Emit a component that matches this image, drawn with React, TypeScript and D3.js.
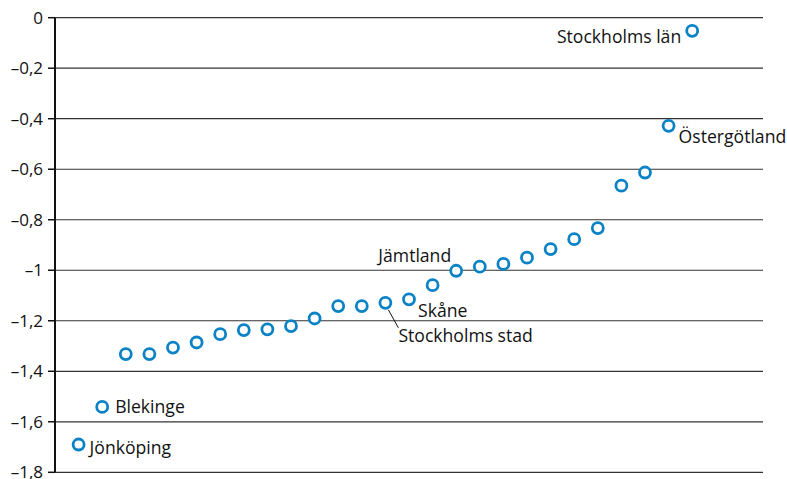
import React from "react";
import * as d3 from "d3";

const values: number[] = [
  -1.69, -1.541, -1.332, -1.332, -1.306, -1.286, -1.253, -1.237, -1.234, -1.221,
  -1.191, -1.142, -1.142, -1.129, -1.115, -1.059, -1.002, -0.986, -0.975, -0.95,
  -0.916, -0.877, -0.833, -0.665, -0.613, -0.428, -0.052,
];
const yTicks: number[] = [0, -0.2, -0.4, -0.6, -0.8, -1, -1.2, -1.4, -1.6, -1.8];

type Lab = { idx: number; text: string; dx: number; dy: number; anchor: string; leader?: boolean };
const labels: Lab[] = [
  { idx: 0, text: "Jönköping", dx: 11, dy: 9, anchor: "start" },
  { idx: 1, text: "Blekinge", dx: 13, dy: 6.5, anchor: "start" },
  { idx: 13, text: "Stockholms stad", dx: 13, dy: 39, anchor: "start", leader: true },
  { idx: 14, text: "Skåne", dx: 9, dy: 17.5, anchor: "start" },
  { idx: 16, text: "Jämtland", dx: -5, dy: -9, anchor: "end" },
  { idx: 25, text: "Östergötland", dx: 10, dy: 17.5, anchor: "start" },
  { idx: 26, text: "Stockholms län", dx: -11, dy: 12, anchor: "end" },
];

const W = 787;
const H = 479;
const left = 55;
const right = 763;
const top = 17.7;
const bottom = 472.3;
const FONT = "'Open Sans', 'Noto Sans', sans-serif";

export default function App() {
  const x = d3.scaleLinear().domain([0, 30]).range([left, right]);
  const y = d3.scaleLinear().domain([0, -1.8]).range([top, bottom]);
  const fmt = (v: number) => {
    const s = d3.format(".1f")(Math.abs(v)).replace(".", ",").replace(/,0$/, "");
    return v < 0 ? "\u2013" + s : s;
  };
  const color = "#0a82c6";
  return (
    <svg
      width={W}
      height={H}
      style={{ position: "absolute", left: 0, top: 0, background: "#fff" }}
      fontFamily={FONT}
    >
      {yTicks.map((t) => (
        <g key={t}>
          <line x1={left} x2={right} y1={y(t)} y2={y(t)} stroke="#333" strokeWidth={1.2} />
          <line x1={left - 7} x2={left} y1={y(t)} y2={y(t)} stroke="#111" strokeWidth={1.5} />
          <text
            x={left - 12}
            y={y(t)}
            dy="0.35em"
            textAnchor="end"
            fontSize={17}
            fill="#111"
          >
            {fmt(t)}
          </text>
        </g>
      ))}
      <line x1={left} x2={left} y1={top} y2={bottom} stroke="#111" strokeWidth={2} />
      {labels.map((l) => {
        const cx = x(l.idx + 1);
        const cy = y(values[l.idx]);
        return (
          <g key={l.text}>
            {l.leader && (
              <line x1={cx + 3} y1={cy + 7} x2={cx + 13} y2={cy + 25} stroke="#111" strokeWidth={1} />
            )}
            <text
              x={cx + l.dx}
              y={cy + l.dy}
              textAnchor={l.anchor}
              fontSize={17.6}
              fill="#111"
            >
              {l.text}
            </text>
          </g>
        );
      })}
      {values.map((v, i) => (
        <circle
          key={i}
          cx={x(i + 1)}
          cy={y(v)}
          r={5.5}
          fill="#fff"
          stroke={color}
          strokeWidth={2.8}
        />
      ))}
    </svg>
  );
}
